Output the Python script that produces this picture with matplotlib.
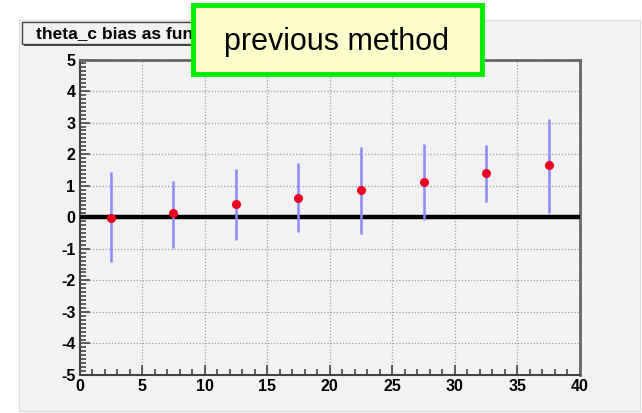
import matplotlib
matplotlib.use("Agg")
import matplotlib.pyplot as plt
from matplotlib.patches import Rectangle
from matplotlib.ticker import MultipleLocator
import numpy as np

plt.rcParams["axes.unicode_minus"] = False

# data
bin_centers = [2.5, 7.5, 12.5, 17.5, 22.5, 27.5, 32.5, 37.5]
bias = [-0.03, 0.12, 0.41, 0.62, 0.85, 1.13, 1.39, 1.66]
err_up = [1.47, 1.03, 1.13, 1.11, 1.37, 1.19, 0.91, 1.46]
err_down = [1.39, 1.10, 1.13, 1.10, 1.39, 1.22, 0.91, 1.51]
title_text = "theta_c bias as fun"
label_text = "previous method"

W, H = 642, 413
fig = plt.figure(figsize=(W / 100, H / 100), dpi=100)
fig.patch.set_facecolor("white")


def px(x, y):
    # pixel coords (top-left origin) -> figure fraction
    return x / W, 1 - y / H


# gray ROOT canvas
x0, y0 = px(19, 411)
fig.patches.append(Rectangle((x0, y0), (640 - 19) / W, (411 - 20) / H,
                             transform=fig.transFigure, facecolor="#f2f2f2",
                             edgecolor="#dddddd", lw=0.8, zorder=-5))

L, R, T, B = 79.5, 580, 59.5, 375
ax = fig.add_axes([L / W, 1 - B / H, (R - L) / W, (B - T) / H])
ax.set_zorder(1)
ax.set_facecolor("#f2f2f2")
ax.set_xlim(0, 40)
ax.set_ylim(-5, 5)

ax.xaxis.set_major_locator(MultipleLocator(5))
ax.xaxis.set_minor_locator(MultipleLocator(1))
ax.yaxis.set_major_locator(MultipleLocator(1))
ax.yaxis.set_minor_locator(MultipleLocator(0.125))
ax.tick_params(which="both", direction="in", color="#444444", width=1.2,
               top=False, right=False)
ax.tick_params(which="major", length=7, pad=3, labelsize=11.5)
ax.tick_params(which="minor", length=4)
for lab in ax.get_xticklabels() + ax.get_yticklabels():
    lab.set_fontweight("bold")
    lab.set_family("Liberation Sans")

ax.grid(True, which="major", color="#a0a0a0", lw=0.9, linestyle=(0, (1, 1.5)))
for s in ["left", "bottom"]:
    ax.spines[s].set_color("#444444")
    ax.spines[s].set_linewidth(1.5)
for s in ["right", "top"]:
    ax.spines[s].set_color("#666666")
    ax.spines[s].set_linewidth(2)

ax.axhline(0, color="black", lw=3.2, zorder=3)
ax.errorbar(bin_centers, bias, yerr=[err_down, err_up], fmt="none",
            ecolor="#8a8aff", elinewidth=1.8, capsize=0, zorder=4)
ax.plot(bin_centers, bias, "o", color="#ee0022", ms=5.5, mec="#ee0022", zorder=5)

# title box (ROOT style, with shadow)
tx, ty = px(22, 44)
fig.patches.append(Rectangle((tx + 2 / W, ty - 2 / H), 200 / W, 22 / H,
                             transform=fig.transFigure, facecolor="#444444",
                             edgecolor="none", zorder=2))
fig.patches.append(Rectangle((tx, ty), 200 / W, 22 / H,
                             transform=fig.transFigure, facecolor="#f2f2f2",
                             edgecolor="#444444", lw=1, zorder=3))
fig.text(*px(36, 34), title_text, fontsize=12.5, fontweight="bold",
         family="Liberation Sans", va="center", ha="left", zorder=4)

# yellow label box with green border
bx, by = px(193, 74)
fig.patches.append(Rectangle((bx, by), (482 - 193) / W, (74 - 5) / H,
                             transform=fig.transFigure, facecolor="#ffffcc",
                             edgecolor="#00ee00", lw=3.5, zorder=5))
fig.text(*px(337, 42), label_text, fontsize=22,
         family="Liberation Sans", va="center", ha="center", zorder=6)

fig.savefig("out.png", dpi=100, facecolor="white")
